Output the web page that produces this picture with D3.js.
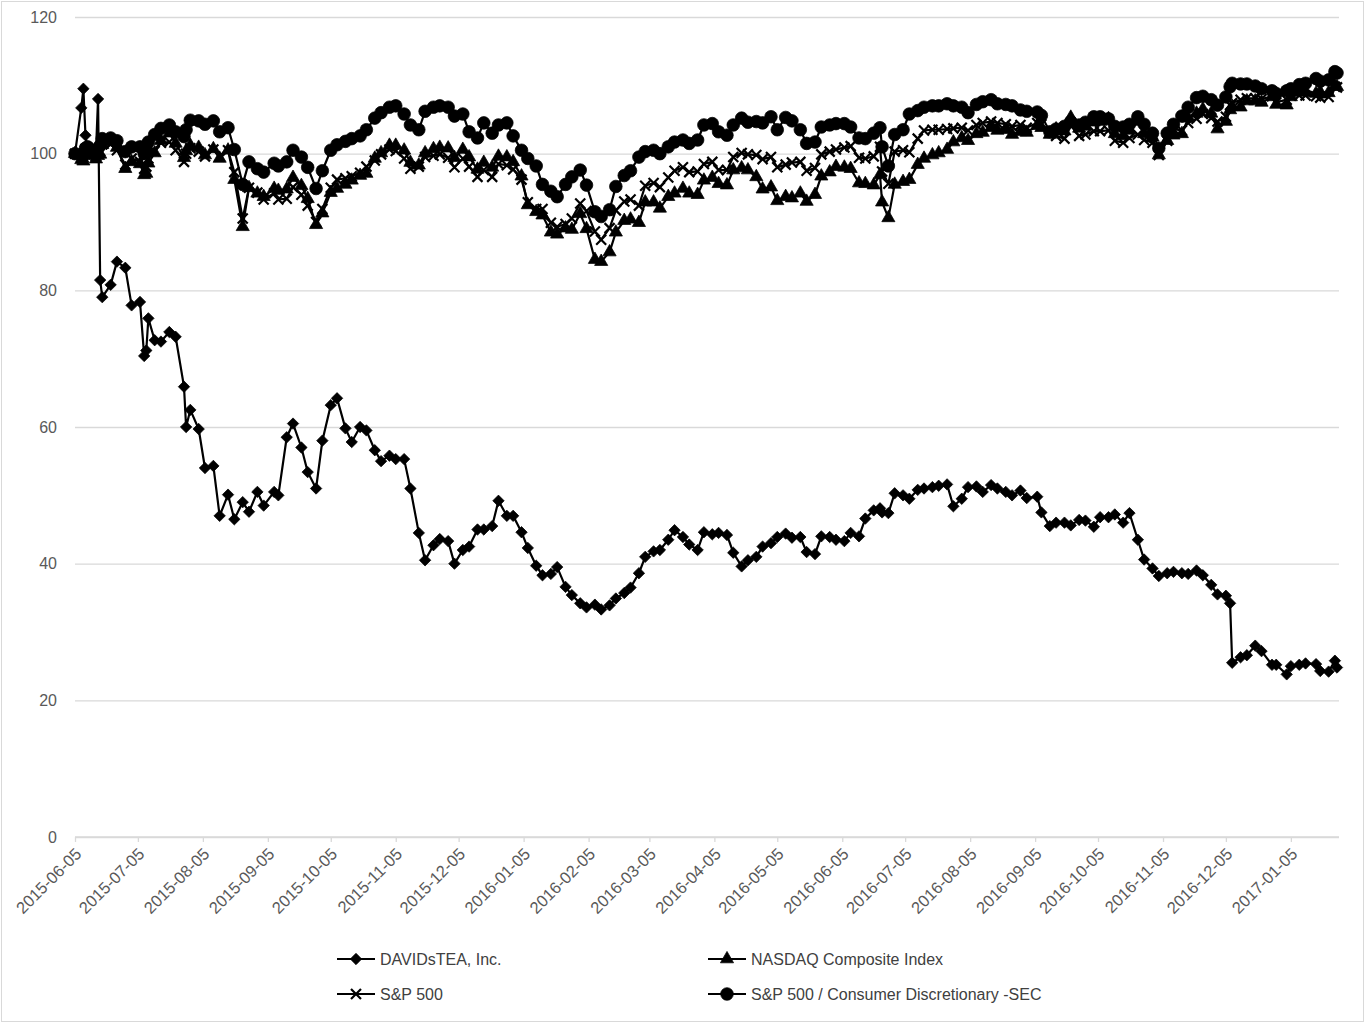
<!DOCTYPE html>
<html>
<head>
<meta charset="utf-8">
<script src="https://cdn.jsdelivr.net/npm/d3@7"></script>
<style>
  body { margin: 0; background: #fff; }
  text { font-family: "Liberation Sans", Arial, sans-serif; }
</style>
</head>
<body>
<svg id="chart" width="1368" height="1025"></svg>
<script>
// trading dates the values were read at (one line per month)
let dates = `
2015-06-05 2015-06-08 2015-06-09 2015-06-10 2015-06-11 2015-06-12 2015-06-15 2015-06-16 2015-06-17 2015-06-18 2015-06-22 2015-06-25 2015-06-29
2015-07-02 2015-07-06 2015-07-08 2015-07-09 2015-07-10 2015-07-13 2015-07-16 2015-07-20 2015-07-23 2015-07-27 2015-07-28 2015-07-30
2015-08-03 2015-08-06 2015-08-10 2015-08-13 2015-08-17 2015-08-20 2015-08-24 2015-08-27 2015-08-31
2015-09-03 2015-09-08 2015-09-10 2015-09-14 2015-09-17 2015-09-21 2015-09-24 2015-09-28
2015-10-01 2015-10-05 2015-10-08 2015-10-12 2015-10-15 2015-10-19 2015-10-22 2015-10-26 2015-10-29
2015-11-02 2015-11-05 2015-11-09 2015-11-12 2015-11-16 2015-11-19 2015-11-23 2015-11-26 2015-11-30
2015-12-03 2015-12-07 2015-12-10 2015-12-14 2015-12-17 2015-12-21 2015-12-24 2015-12-28 2015-12-31
2016-01-04 2016-01-07 2016-01-11 2016-01-14 2016-01-18 2016-01-21 2016-01-25 2016-01-28
2016-02-01 2016-02-04 2016-02-08 2016-02-11 2016-02-15 2016-02-18 2016-02-22 2016-02-25 2016-02-29
2016-03-03 2016-03-07 2016-03-10 2016-03-14 2016-03-17 2016-03-21 2016-03-24 2016-03-28 2016-03-31
2016-04-04 2016-04-07 2016-04-11 2016-04-14 2016-04-18 2016-04-21 2016-04-25 2016-04-28
2016-05-02 2016-05-05 2016-05-09 2016-05-12 2016-05-16 2016-05-19 2016-05-23 2016-05-26 2016-05-30
2016-06-02 2016-06-06 2016-06-09 2016-06-13 2016-06-16 2016-06-20 2016-06-23 2016-06-24 2016-06-27 2016-06-30
2016-07-04 2016-07-07 2016-07-11 2016-07-14 2016-07-18 2016-07-21 2016-07-25 2016-07-28
2016-08-01 2016-08-04 2016-08-08 2016-08-11 2016-08-15 2016-08-18 2016-08-22 2016-08-25 2016-08-29
2016-09-01 2016-09-06 2016-09-08 2016-09-12 2016-09-15 2016-09-19 2016-09-22 2016-09-26 2016-09-29
2016-10-03 2016-10-06 2016-10-10 2016-10-13 2016-10-17 2016-10-20 2016-10-24 2016-10-27 2016-10-31
2016-11-03 2016-11-07 2016-11-10 2016-11-14 2016-11-17 2016-11-21 2016-11-24 2016-11-28
2016-12-01 2016-12-05 2016-12-07 2016-12-08 2016-12-12 2016-12-15 2016-12-19 2016-12-22 2016-12-27 2016-12-29
2017-01-03 2017-01-05 2017-01-09 2017-01-12 2017-01-17 2017-01-19 2017-01-23 2017-01-26 2017-01-27
`.trim().split(/\s+/);

let davidstea = [
  100, 106.7, 109.5, 102.7, 100.5, 100, 100.3, 108, 81.5, 79, 80.8, 84.2, 83.3,
  77.8, 78.3, 70.4, 71.2, 75.9, 72.7, 72.5, 73.9, 73.2, 65.9, 60, 62.5,
  59.7, 54, 54.3, 47, 50.1, 46.5, 49, 47.6, 50.5,
  48.5, 50.5, 50, 58.5, 60.5, 57, 53.4, 51,
  58, 63.2, 64.2, 59.8, 57.8, 60, 59.5, 56.6, 55,
  55.8, 55.3, 55.3, 51, 44.5, 40.5, 42.7, 43.6, 43.3,
  40, 42, 42.5, 45, 45, 45.5, 49.2, 47, 47,
  44.6, 42.3, 39.7, 38.3, 38.5, 39.5, 36.6, 35.4,
  34.2, 33.6, 34, 33.3, 33.9, 34.9, 35.7, 36.5, 38.6,
  41, 41.8, 42, 43.5, 44.9, 43.9, 42.8, 42, 44.6,
  44.3, 44.5, 44.2, 41.6, 39.6, 40.5, 41, 42.5,
  43, 43.9, 44.4, 43.8, 43.9, 41.7, 41.4, 44, 43.9,
  43.5, 43.3, 44.5, 44, 46.6, 47.8, 48.1, 47.5, 47.4, 50.3,
  50, 49.5, 50.8, 51, 51.2, 51.4, 51.6, 48.4,
  49.5, 51.2, 51.3, 50.5, 51.5, 51, 50.5, 50, 50.7,
  49.6, 49.8, 47.5, 45.5, 46, 46, 45.6, 46.4, 46.3,
  45.4, 46.8, 46.8, 47.2, 46, 47.4, 43.5, 40.6, 39.3,
  38.2, 38.6, 38.8, 38.6, 38.5, 39, 38.3, 36.9,
  35.5, 35.3, 34.2, 25.5, 26.3, 26.6, 28, 27.2, 25.2, 25.2,
  23.8, 25, 25.2, 25.4, 25.3, 24.3, 24.2, 25.8, 24.8
];

let nasdaq = [
  100, 99.1, 98.9, 100.2, 100.3, 99.7, 99.2, 99.7, 99.9, 101.3, 101.7, 100.9, 97.8,
  98.8, 98.5, 96.9, 97.1, 98.6, 100.1, 101.9, 103, 101.5, 99.4, 100.4, 101.2,
  100.9, 99.8, 100.7, 99.3, 100.5, 96.2, 89.3, 95, 94.2,
  93.7, 94.9, 94.6, 94.8, 96.5, 95.3, 93.4, 89.6,
  91.3, 94.3, 94.9, 95.5, 96.1, 96.8, 97.1, 99.3, 100.1,
  101.2, 101.2, 100.5, 98.7, 98.3, 100.1, 100.7, 100.9, 100.8,
  99.4, 100.6, 99.5, 97.7, 98.7, 98, 99.6, 99.5, 98.8,
  96.7, 92.5, 91.5, 91, 88.5, 88.2, 89.1, 88.9,
  91.2, 89, 84.5, 84.2, 85.6, 88.5, 90.2, 90.4, 89.9,
  92.9, 92.9, 92, 93.7, 94.2, 94.9, 94.2, 94, 96.1,
  96.5, 95.6, 95.4, 97.6, 97.9, 97.6, 96.6, 94.8,
  95.1, 93.1, 93.7, 93.5, 94.2, 93, 94, 96.7, 97.3,
  98.1, 98, 97.8, 95.7, 95.6, 95.4, 96.9, 92.9, 90.6, 95.5,
  95.9, 96.2, 98.4, 99.3, 99.8, 100.1, 100.6, 101.7,
  102.3, 101.9, 102.9, 103.1, 103.8, 103.4, 103.5, 102.8, 103.2,
  103.1, 104.1, 103.8, 102.8, 103.6, 103.3, 105.3, 103.7, 104,
  104.6, 104.7, 105.1, 102.9, 102.6, 103.4, 104.7, 102.9, 102.4,
  99.8, 101.9, 102.7, 102.9, 105.2, 105.9, 106.5, 105.9,
  103.6, 104.7, 106.4, 106.9, 106.8, 107.7, 107.7, 107.5, 108.3, 107.2,
  107.1, 108.3, 109.1, 109.1, 108.8, 109, 108.9, 109.9, 109.8
];

let sp500 = [
  100, 99.4, 99.5, 100.7, 100.8, 100.1, 99.6, 100.2, 100.4, 101.4, 101.4, 100.5, 98.4,
  99.3, 98.8, 97.8, 98.1, 99.3, 100.4, 101.6, 101.7, 100.5, 98.8, 100, 100.8,
  100.3, 99.6, 100.6, 99.6, 100.5, 97.3, 90.5, 95, 94.3,
  93.3, 94.2, 93.3, 93.4, 95.1, 94, 92.4, 90,
  91.9, 95, 96.2, 96.4, 96.7, 97.2, 98.1, 99, 99.9,
  100.6, 100.4, 99.3, 97.8, 98.1, 99.5, 99.7, 99.9, 99.4,
  98, 99.3, 98.1, 96.6, 97.6, 96.6, 98.5, 98.3, 97.7,
  96.2, 92.9, 91.9, 91.9, 89.9, 89.3, 89.7, 90.5,
  92.7, 91.6, 88.6, 87.4, 89.1, 91.7, 93, 93.3, 92.4,
  95.3, 95.7, 95.1, 96.5, 97.5, 98, 97.3, 97.4, 98.5,
  98.8, 97.6, 97.6, 99.5, 100.1, 99.9, 99.8, 99.2,
  99.5, 98, 98.4, 98.7, 98.8, 97.5, 97.9, 99.9, 100.3,
  100.6, 100.9, 101.1, 99.4, 99.3, 99.6, 101, 97.4, 95.6, 100.3,
  100.5, 100.2, 102.2, 103.4, 103.5, 103.5, 103.6, 103.7,
  103.8, 103.4, 104.2, 104.5, 104.7, 104.5, 104.3, 104, 104.2,
  103.8, 104.5, 104.3, 103.2, 102.6, 102.2, 104.1, 102.6, 102.8,
  103.3, 103.3, 103.4, 101.9, 101.6, 102.3, 102.8, 102, 101.6,
  99.8, 101.9, 103.6, 103.4, 104.5, 105.1, 105.8, 105.2,
  104.7, 105.4, 107.1, 107.4, 107.9, 108.1, 108.1, 108, 108.4, 107.5,
  107.9, 108.5, 108.5, 108.5, 108.4, 108.2, 108.3, 109.8, 109.7
];

let consumer = [
  100, 99.8, 99.8, 100.8, 101, 100.6, 100.3, 100.8, 101.2, 102.2, 102.3, 101.9, 100.3,
  101, 101, 100, 100.3, 101.7, 102.8, 103.7, 104.2, 103.2, 102.5, 103.5, 104.9,
  104.8, 104.3, 104.8, 103.2, 103.8, 100.6, 95.5, 98.8, 97.8,
  97.3, 98.6, 98.2, 98.8, 100.5, 99.5, 98, 94.9,
  97.5, 100.5, 101.3, 101.8, 102.2, 102.6, 103.5, 105.2, 106,
  106.8, 107, 105.8, 104.2, 103.5, 106.2, 106.8, 107, 106.8,
  105.5, 105.8, 103.2, 102.3, 104.5, 103, 104.2, 104.5, 102.6,
  100.5, 99.3, 98.2, 95.5, 94.5, 93.7, 95.5, 96.6,
  97.6, 95.4, 91.5, 90.8, 91.8, 95.2, 96.8, 97.5, 99.5,
  100.3, 100.5, 100, 101, 101.7, 102, 101.5, 102, 104.2,
  104.4, 103.2, 102.7, 104.2, 105.2, 104.6, 104.7, 104.5,
  105.4, 103.5, 105.3, 104.8, 103.5, 101.5, 101.7, 103.9, 104.2,
  104.4, 104.4, 103.9, 102.3, 102.2, 103, 103.8, 101, 98.2, 102.8,
  103.5, 105.8, 106.3, 106.8, 107, 107, 107.3, 107,
  106.8, 106, 107.2, 107.6, 107.9, 107.3, 107.2, 107, 106.4,
  106.2, 106.1, 105.6, 103.2, 103.6, 104, 104.7, 104.2, 104.6,
  105.4, 105.4, 105.1, 104, 103.9, 104.3, 105.4, 104.3, 103,
  100.8, 103, 104.3, 105.5, 106.8, 108.2, 108.4, 107.9,
  107.1, 108.3, 109.8, 110.3, 110.2, 110.2, 109.9, 109.5, 109.2, 108.8,
  109.2, 109.5, 110.1, 110.3, 111, 110.6, 110.8, 112, 111.8
];

let seriesNames = ["DAVIDsTEA, Inc.", "NASDAQ Composite Index", "S&P 500", "S&P 500 / Consumer Discretionary -SEC"];
let tickLabels = ["2015-06-05","2015-07-05","2015-08-05","2015-09-05","2015-10-05","2015-11-05","2015-12-05",
  "2016-01-05","2016-02-05","2016-03-05","2016-04-05","2016-05-05","2016-06-05","2016-07-05","2016-08-05",
  "2016-09-05","2016-10-05","2016-11-05","2016-12-05","2017-01-05"];
let yTicks = [0, 20, 40, 60, 80, 100, 120];

let parse = d3.utcParse("%Y-%m-%d");

// marker shapes, Excel style
let diamond = {
  draw(ctx, size) {
    let r = Math.sqrt(size) / 2;
    ctx.moveTo(0, -r); ctx.lineTo(r, 0); ctx.lineTo(0, r); ctx.lineTo(-r, 0); ctx.closePath();
  }
};
let cross = {
  draw(ctx, size) {
    let r = Math.sqrt(size) / 2;
    ctx.moveTo(-r, -r); ctx.lineTo(r, r);
    ctx.moveTo(-r, r); ctx.lineTo(r, -r);
  }
};
let markers = [
  { type: diamond, size: 130, filled: true },
  { type: d3.symbolTriangle, size: 75, filled: true },
  { type: cross, size: 100, filled: false },
  { type: d3.symbolCircle, size: 125, filled: true }
];

let allValues = [davidstea, nasdaq, sp500, consumer];
allValues.forEach((v, i) => { if (v.length != dates.length) console.log("length mismatch", seriesNames[i], v.length, dates.length); });

let svg = d3.select("#chart");
let plotLeft = 75, plotRight = 1339, plotTop = 17, plotBottom = 837;

let x = d3.scaleUtc()
  .domain([parse("2015-06-05"), parse("2017-01-27")])
  .range([plotLeft, 1337]);
let y = d3.scaleLinear()
  .domain([0, 120])
  .range([plotBottom, plotTop]);

// outer chart border
svg.append("rect")
  .attr("x", 1.5).attr("y", 1.5)
  .attr("width", 1362).attr("height", 1020)
  .attr("fill", "#fff")
  .attr("stroke", "#d9d9d9");

// y axis with gridlines
let yAxis = svg.append("g")
  .attr("transform", "translate(" + plotLeft + ",0)")
  .call(d3.axisLeft(y).tickValues(yTicks).tickSize(-(plotRight - plotLeft)).tickPadding(18));
yAxis.select(".domain").remove();
yAxis.selectAll(".tick line").attr("stroke", "#d9d9d9").attr("stroke-width", 1.3);
yAxis.selectAll(".tick text")
  .attr("fill", "#595959")
  .style("font-size", "16px");

// x axis, monthly ticks
let xAxis = svg.append("g")
  .attr("transform", "translate(0," + plotBottom + ")")
  .call(d3.axisBottom(x)
    .tickValues(tickLabels.map(parse))
    .tickFormat(d3.utcFormat("%Y-%m-%d"))
    .tickSize(5));
xAxis.select(".domain")
  .attr("d", "M" + plotLeft + ",0H" + plotRight)
  .attr("stroke", "#d9d9d9").attr("stroke-width", 1.3);
xAxis.selectAll(".tick line").attr("stroke", "#d9d9d9").attr("stroke-width", 1.3);
xAxis.selectAll(".tick text")
  .attr("fill", "#595959")
  .style("font-size", "16.5px")
  .attr("text-anchor", "end")
  .attr("x", 0).attr("y", 0).attr("dy", "0.35em")
  .attr("transform", "translate(3,14) rotate(-45)");

let line = d3.line()
  .x(d => x(d.date))
  .y(d => y(d.value));

let plot = svg.append("g");

allValues.forEach((values, i) => {
  let data = values.map((v, k) => ({ date: parse(dates[k]), value: v }));
  let m = markers[i];
  let g = plot.append("g");
  g.append("path")
    .datum(data)
    .attr("d", line)
    .attr("fill", "none")
    .attr("stroke", "#000")
    .attr("stroke-width", 2.2)
    .attr("stroke-linejoin", "round");
  g.selectAll(".mark")
    .data(data)
    .enter()
    .append("path")
    .attr("class", "mark")
    .attr("d", d3.symbol().type(m.type).size(m.size))
    .attr("transform", d => "translate(" + x(d.date) + "," + y(d.value) + ")")
    .attr("fill", m.filled ? "#000" : "none")
    .attr("stroke", "#000")
    .attr("stroke-width", m.filled ? 0.75 : 2.2);
});

// legend, two columns by two rows
let legendPos = [[337, 959], [708, 959], [337, 994], [708, 994]];
let legend = svg.append("g");
seriesNames.forEach((name, i) => {
  let p = legendPos[i];
  let m = markers[i];
  legend.append("line")
    .attr("x1", p[0]).attr("x2", p[0] + 38)
    .attr("y1", p[1]).attr("y2", p[1])
    .attr("stroke", "#000").attr("stroke-width", 2.2);
  legend.append("path")
    .attr("d", d3.symbol().type(m.type).size(m.size))
    .attr("transform", "translate(" + (p[0] + 19) + "," + p[1] + ")")
    .attr("fill", m.filled ? "#000" : "none")
    .attr("stroke", "#000")
    .attr("stroke-width", m.filled ? 0.75 : 2.2);
  legend.append("text")
    .attr("x", p[0] + 43)
    .attr("y", p[1])
    .attr("dy", "0.35em")
    .attr("fill", "#404040")
    .style("font-size", "16px")
    .text(name);
});
</script>
</body>
</html>
